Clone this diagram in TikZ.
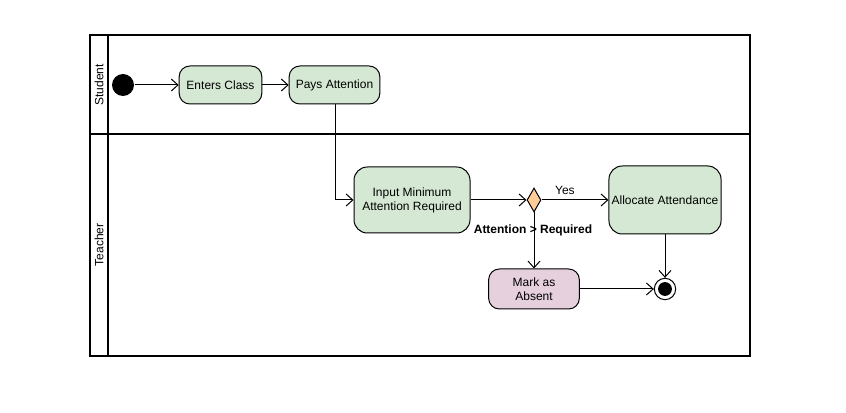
\documentclass[tikz,border=0pt]{standalone}
\usepackage{fontspec}
\setmainfont{Liberation Sans}
\usetikzlibrary{arrows.meta, positioning, shapes.geometric}
\definecolor{actgreen}{HTML}{D5E8D4}
\definecolor{actpink}{HTML}{E6D0DE}
\definecolor{decorange}{HTML}{FFCC99}

\begin{document}
\begin{tikzpicture}[x=0.75pt, y=-0.75pt, >={Straight Barb[length=5pt,width=9pt]},
    font=\fontsize{9}{10.5}\selectfont, line width=0.75pt,
    action/.style={draw, fill=actgreen, rounded corners=8pt, align=center, inner sep=2pt},
    absent/.style={action, fill=actpink},
    decision/.style={diamond, draw, fill=decorange, inner sep=0pt, minimum width=10.5pt, minimum height=18pt},
    lane/.style={rotate=90}]
  \useasboundingbox (0,0) rectangle (846,413);

  % Pool
  \draw[line width=1.5pt] (90,35) rectangle (750,356);
  \draw[line width=1.5pt] (108,35) -- (108,356);
  \draw[line width=1.5pt] (90,134) -- (750,134);
  \node[lane] (student) at (99,85) {Student};
  \node[lane] (teacher) at (99,245) {Teacher};

  % Student lane
  \node[circle, fill=black, minimum size=16.5pt, inner sep=0pt] (start) at (123,85) {};
  \node[action, minimum width=62pt, minimum height=28.5pt] (enter) at (220.5,85) {Enters Class};
  \node[action, minimum width=68pt, minimum height=28.5pt] (pays) at (334.5,85) {Pays Attention};

  % Teacher lane
  \node[action, rounded corners=10pt, minimum width=87pt, minimum height=49.5pt] (input) at (412,200) {Input Minimum\\Attention Required};
  \node[decision] (check) at (534,200) {};
  \node[action, rounded corners=10pt, minimum width=84pt, minimum height=51pt] (alloc) at (665,200) {Allocate Attendance};
  \node[absent, minimum width=68pt, minimum height=30pt] (mark) at (534,289) {Mark as\\Absent};
  \node[circle, draw, fill=white, minimum size=16pt, inner sep=0pt] (final) at (665,289) {};
  \node[circle, fill=black, minimum size=10.4pt, inner sep=0pt] (finaldot) at (final) {};

  % Flows
  \draw[->] (start) -- (enter);
  \draw[->] (enter) -- (pays);
  \draw[->] ([xshift=1pt]pays.south) |- (input.west);
  \draw[->] (input) -- (check);
  \draw[->] (check) -- node[above, pos=0.35] (yes) {Yes} (alloc);
  \draw[->] (check) -- (mark);
  \node[font=\fontsize{9}{10.5}\selectfont\bfseries] (guard) at (533,230) {Attention > Required};
  \draw[->] (alloc) -- (final);
  \draw[->] (mark) -- (final);
\end{tikzpicture}
\end{document}
